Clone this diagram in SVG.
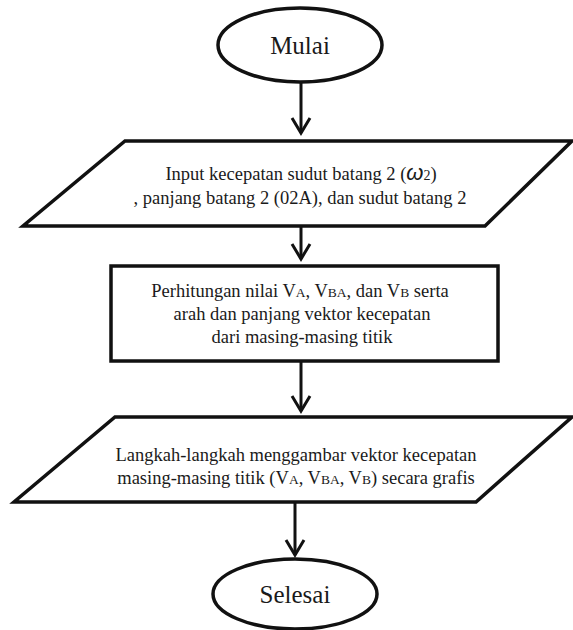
<svg xmlns="http://www.w3.org/2000/svg" width="573" height="630" viewBox="0 0 573 630">
<style>
.shape{fill:#ffffff;stroke:#111111;stroke-width:3.5;stroke-linejoin:miter}
.t{font-family:"Liberation Serif","Times New Roman",serif;font-size:18.5px;fill:#1a1a1a;text-anchor:middle}
.big{font-size:25px}
.sc{font-size:13.5px}
.conn{stroke:#111111;stroke-width:3;fill:none}
</style>
<defs>
<marker id="arr" markerUnits="userSpaceOnUse" viewBox="-20 -12 24 24" markerWidth="24" markerHeight="24" refX="0" refY="0" orient="auto">
<path d="M-15,-9 L0,0 L-15,9" fill="none" stroke="#111111" stroke-width="3"/>
</marker>
</defs>
<rect width="573" height="630" fill="#ffffff"/>
<g id="connectors">
<line class="conn" x1="301" y1="82" x2="301" y2="133" marker-end="url(#arr)"/>
<line class="conn" x1="301" y1="227" x2="301" y2="259" marker-end="url(#arr)"/>
<line class="conn" x1="301" y1="361" x2="301" y2="411" marker-end="url(#arr)"/>
<line class="conn" x1="295" y1="503" x2="295" y2="555" marker-end="url(#arr)"/>
</g>
<g id="mulai">
<ellipse class="shape" cx="300" cy="45" rx="82" ry="37"/>
<text class="t big" x="300" y="54">Mulai</text>
</g>
<g id="input">
<polygon class="shape" points="125,141 572,141 485,226 23,226"/>
<text class="t" x="301" y="180">Input kecepatan sudut batang 2 (<tspan font-family="Liberation Sans, sans-serif" font-style="italic" font-size="22">ω</tspan><tspan font-size="14">2</tspan>)</text>
<text class="t" x="300" y="204">, panjang batang 2 (02A), dan sudut batang 2</text>
</g>
<g id="perhitungan">
<rect class="shape" x="111" y="266" width="387" height="95"/>
<text class="t" x="300" y="297">Perhitungan nilai V<tspan class="sc">A</tspan>, V<tspan class="sc">BA</tspan>, dan V<tspan class="sc">B</tspan> serta</text>
<text class="t" x="302" y="320">arah dan panjang vektor kecepatan</text>
<text class="t" x="302" y="343">dari masing-masing titik</text>
</g>
<g id="langkah">
<polygon class="shape" points="115,417 572,417 476,502 14,502"/>
<text class="t" x="296" y="461">Langkah-langkah menggambar vektor kecepatan</text>
<text class="t" x="296" y="484">masing-masing titik (V<tspan class="sc">A</tspan>, V<tspan class="sc">BA</tspan>, V<tspan class="sc">B</tspan>) secara grafis</text>
</g>
<g id="selesai">
<ellipse class="shape" cx="295" cy="594" rx="82" ry="35"/>
<text class="t big" x="295" y="603">Selesai</text>
</g>
</svg>
